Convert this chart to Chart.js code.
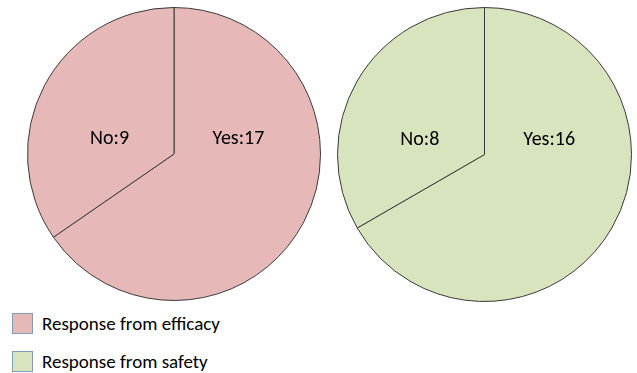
<!DOCTYPE html>
<html lang="en">
<head>
    <meta charset="UTF-8">
    <title>Response pies</title>
    <style>
        body { margin: 0; background: #fff; width: 637px; height: 373px; position: relative; overflow: hidden; font-family: Carlito, Lato, "Open Sans", sans-serif; }
        canvas { position: absolute; }
        #pieEfficacy { left: 27px; top: 7px; }
        #pieSafety { left: 337px; top: 7px; }
        .legend { position: absolute; left: 12px; top: 312px; }
        .legend-item { display: flex; align-items: center; height: 22px; margin-bottom: 16px; font-size: 19px; color: #000; }
        .legend-box { width: 21px; height: 21px; border: 1px solid #7f9db9; margin-right: 9px; box-sizing: border-box; }
    </style>
</head>
<body>
    <canvas id="pieEfficacy" width="294" height="294"></canvas>
    <canvas id="pieSafety" width="295" height="295"></canvas>
    <div class="legend" id="legend"></div>

    <script src="https://cdn.jsdelivr.net/npm/chart.js@4/dist/chart.umd.min.js"></script>
    <script>
        // datos
        const categories = ['Yes', 'No'];
        const efficacyValues = [17, 9];
        const safetyValues = [16, 8];
        const seriesNames = ['Response from efficacy', 'Response from safety'];
        const seriesColors = ['#e6b9b8', '#d7e4bd'];

        // etiquetas "Yes:17" dentro de cada porción
        const sliceLabels = {
            id: 'sliceLabels',
            afterDatasetsDraw(chart) {
                const ctx = chart.ctx;
                const meta = chart.getDatasetMeta(0);
                const values = chart.data.datasets[0].data;
                ctx.save();
                ctx.font = '20px Carlito, Lato, sans-serif';
                ctx.fillStyle = '#000';
                ctx.textAlign = 'center';
                ctx.textBaseline = 'middle';
                meta.data.forEach((arc, i) => {
                    const r = arc.outerRadius;
                    const dx = i === 0 ? 0.44 * r : -0.44 * r;
                    ctx.fillText(chart.data.labels[i] + ':' + values[i], arc.x + dx, arc.y - 0.1 * r);
                });
                ctx.restore();
            }
        };

        function makePie(id, values, color) {
            return new Chart(document.getElementById(id), {
                type: 'pie',
                data: {
                    labels: categories,
                    datasets: [{
                        data: values,
                        backgroundColor: color,
                        borderColor: '#3a3a3a',
                        borderWidth: 1
                    }]
                },
                options: {
                    responsive: false,
                    animation: false,
                    layout: { padding: 0 },
                    plugins: { legend: { display: false }, tooltip: { enabled: false } }
                },
                plugins: [sliceLabels]
            });
        }

        makePie('pieEfficacy', efficacyValues, seriesColors[0]);
        makePie('pieSafety', safetyValues, seriesColors[1]);

        // leyenda
        const legend = document.getElementById('legend');
        seriesNames.forEach((name, i) => {
            const item = document.createElement('div');
            item.className = 'legend-item';
            const box = document.createElement('span');
            box.className = 'legend-box';
            box.style.background = seriesColors[i];
            const txt = document.createElement('span');
            txt.textContent = name;
            item.appendChild(box);
            item.appendChild(txt);
            legend.appendChild(item);
        });
    </script>
</body>
</html>
